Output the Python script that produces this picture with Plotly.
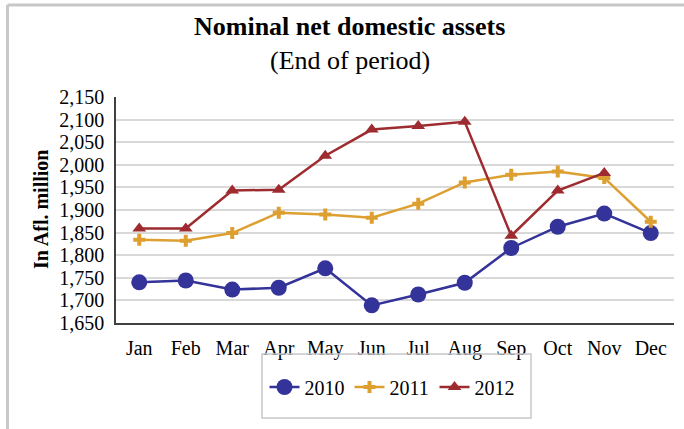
import plotly.graph_objects as go

months = ["Jan", "Feb", "Mar", "Apr", "May", "Jun", "Jul", "Aug", "Sep", "Oct", "Nov", "Dec"]
y2010 = [1740, 1744, 1724, 1728, 1771, 1689, 1713, 1739, 1816, 1863, 1892, 1849]
y2011 = [1834, 1832, 1849, 1894, 1890, 1883, 1914, 1961, 1978, 1985, 1971, 1874]
y2012 = [1859, 1859, 1943, 1945, 2020, 2078, 2086, 2095, 1843, 1943, 1982, None]
ytick_vals = list(range(1650, 2151, 50))
ytick_text = [f"{v:,}" for v in ytick_vals]

FONT = "Liberation Serif"
BLUE = "#333399"
GOLD = "#DDA030"
RED = "#9E2B2F"

fig = go.Figure()
fig.add_trace(go.Scatter(x=months, y=y2010, name="2010", mode="lines+markers",
                         line=dict(color=BLUE, width=2.5),
                         marker=dict(symbol="circle", size=16, color=BLUE)))
fig.add_trace(go.Scatter(x=months, y=y2011, name="2011", mode="lines+markers",
                         line=dict(color=GOLD, width=2.5),
                         marker=dict(symbol="cross", size=10, color=GOLD)))
fig.add_trace(go.Scatter(x=months, y=y2012, name="2012", mode="lines+markers",
                         line=dict(color=RED, width=2.5),
                         marker=dict(symbol="triangle-up", size=12, color=RED)))

W, H = 684, 429
L, R, T, B = 116, 10, 97, 106
pw = W - L - R
ph = H - T - B

def px(xp):
    return (xp - L) / pw

def py(yp):
    return (H - B - yp) / ph

fig.update_layout(
    width=W, height=H,
    margin=dict(l=L, r=R, t=T, b=B),
    paper_bgcolor="white", plot_bgcolor="white",
    font=dict(family=FONT, size=20, color="black"),
    showlegend=True,
    legend=dict(orientation="h", x=px(392), xanchor="center", y=py(387), yanchor="middle",
                font=dict(family=FONT, size=20), bgcolor="rgba(0,0,0,0)", borderwidth=0,
                itemwidth=30, entrywidth=40, entrywidthmode="pixels"),
    xaxis=dict(showgrid=False, showline=True, linecolor="#404040", linewidth=1.5,
               ticks="outside", ticklen=6, tickcolor="rgba(0,0,0,0)",
               tickfont=dict(family=FONT, size=20), range=[-0.5, 11.5], fixedrange=True),
    yaxis=dict(range=[1650, 2150], tickvals=ytick_vals, ticktext=ytick_text,
               showgrid=True, gridcolor="#d9d9d9", gridwidth=1.5,
               showline=True, linecolor="#404040", linewidth=1.5,
               ticks="outside", ticklen=6, tickcolor="rgba(0,0,0,0)",
               tickfont=dict(family=FONT, size=20), zeroline=False),
    annotations=[
        dict(text="<b>Nominal net domestic assets</b>", xref="paper", yref="paper",
             x=px(349), y=py(26), xanchor="center", yanchor="middle", showarrow=False,
             font=dict(family=FONT, size=26, color="black")),
        dict(text="(End of period)", xref="paper", yref="paper",
             x=px(350), y=py(61), xanchor="center", yanchor="middle", showarrow=False,
             font=dict(family=FONT, size=26, color="black")),
        dict(text="<b>In Afl. million</b>", xref="paper", yref="paper",
             x=px(41), y=py(210), xanchor="center", yanchor="middle", showarrow=False,
             textangle=-90, font=dict(family=FONT, size=20, color="black")),
    ],
    shapes=[
        dict(type="rect", xref="paper", yref="paper", x0=px(262), x1=px(531), y0=py(418), y1=py(354),
             line=dict(color="#c8c8c8", width=1.5), fillcolor="rgba(0,0,0,0)"),
        dict(type="line", xref="paper", yref="paper", x0=px(7.5), x1=px(700), y0=py(5), y1=py(5),
             line=dict(color="#c8c8c8", width=3)),
        dict(type="line", xref="paper", yref="paper", x0=px(7.5), x1=px(7.5), y0=py(5), y1=py(450),
             line=dict(color="#c8c8c8", width=3)),
    ],
)

fig.write_html("out.html", config={"displayModeBar": False},
               post_script="document.body.style.margin='0';")
